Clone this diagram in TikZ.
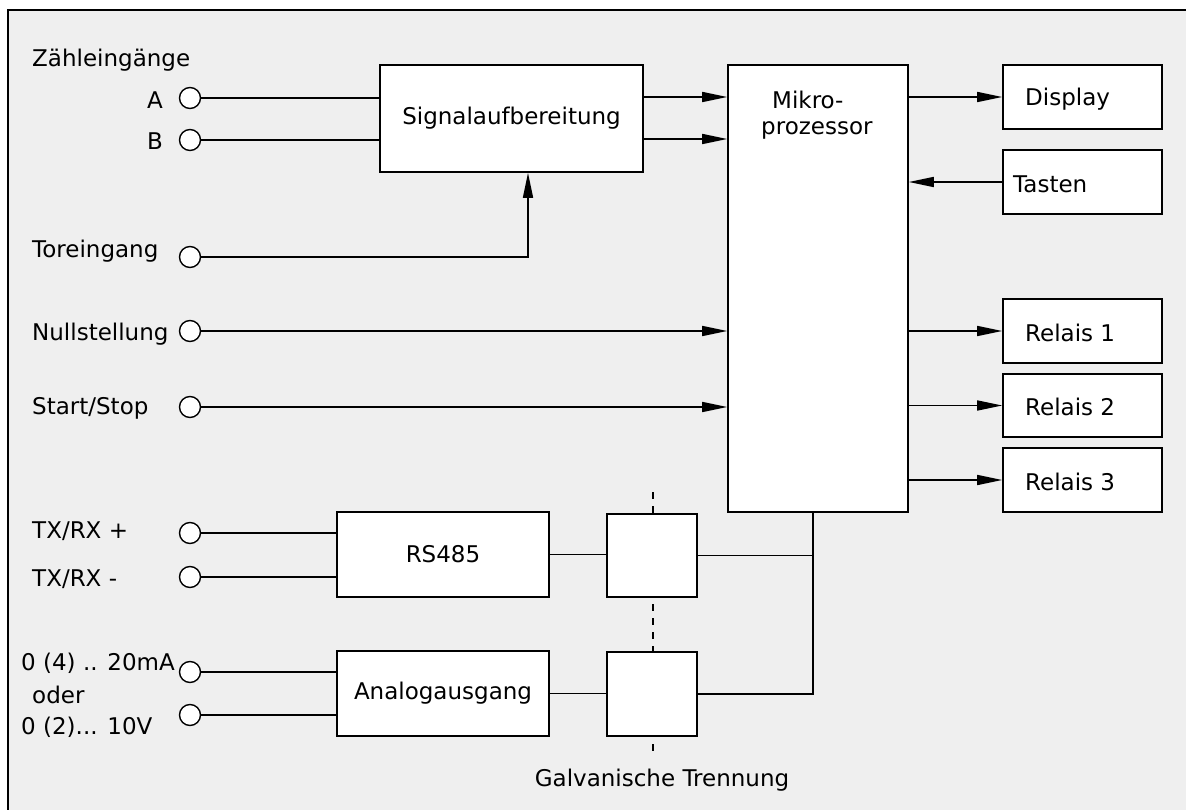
\documentclass[tikz,border=0pt]{standalone}
\usepackage{fontspec}
\setmainfont{DejaVu Sans}
\usetikzlibrary{arrows.meta,calc}
\definecolor{bggray}{HTML}{EFEFEF}
\tikzset{
  box/.style={draw,fill=white,line width=1.6pt,inner sep=0pt,rectangle},
  term/.style={draw,fill=white,circle,minimum size=21pt,inner sep=0pt,line width=1.4pt},
  wire/.style={line width=1.6pt},
  arr/.style={line width=1.6pt,-{Triangle[length=25pt,width=10pt]}},
  lbl/.style={inner sep=0pt,anchor=west},
  every node/.append style={font=\fontsize{23}{27}\selectfont}
}
\begin{document}
\begin{tikzpicture}[x=1pt,y=-1pt]
\useasboundingbox (0,0) rectangle (1186,810);
\fill[bggray] (8,10) rectangle (1186,810);
\draw[line width=2.2pt] (8,810) -- (8,10) -- (1186,10);

% dashed isolation line
\coordinate (dtop) at (653,492);
\coordinate (dbot) at (653,757);
\draw[line width=1.3pt,dash pattern=on 7pt off 7pt] (dtop) -- (dbot);

% boxes
\node[box,minimum width=263pt,minimum height=107pt] (sig) at (511.5,118.5) {Signalaufbereitung};
\node[box,minimum width=180pt,minimum height=447pt] (mik) at (818,288.5) {};
\node[box,minimum width=159pt,minimum height=64pt] (disp) at (1082.5,97) {};
\node[box,minimum width=159pt,minimum height=64pt] (tast) at (1082.5,182) {};
\node[box,minimum width=159pt,minimum height=64pt] (rel1) at (1082.5,331) {};
\node[box,minimum width=159pt,minimum height=63pt] (rel2) at (1082.5,405.5) {};
\node[box,minimum width=159pt,minimum height=64pt] (rel3) at (1082.5,480) {};
\node[box,minimum width=212pt,minimum height=85pt] (rs) at (443,554.5) {RS485};
\node[box,minimum width=212pt,minimum height=85pt] (an) at (443,693.5) {Analogausgang};
\node[box,minimum width=90pt,minimum height=83pt] (iso1) at (652,555.5) {};
\node[box,minimum width=90pt,minimum height=84pt] (iso2) at (652,694) {};

% box texts
\node[lbl] (tmik1) at (772,100) {Mikro-};
\node[lbl] (tmik2) at (761,130) {prozessor};
\node[lbl] (tdisp) at (1025,99) {Display};
\node[lbl] (ttast) at (1013,184) {Tasten};
\node[lbl] (trel1) at (1025,333) {Relais 1};
\node[lbl] (trel2) at (1025,407) {Relais 2};
\node[lbl] (trel3) at (1025,482) {Relais 3};

% terminals
\node[term] (cA) at (190,98) {};
\node[term] (cB) at (190,140) {};
\node[term] (cT) at (190,257) {};
\node[term] (cN) at (190,331) {};
\node[term] (cS) at (190,407) {};
\node[term] (cX1) at (190,533) {};
\node[term] (cX2) at (190,577) {};
\node[term] (cY1) at (190,672) {};
\node[term] (cY2) at (190,715) {};

% left labels
\node[lbl] (lz) at (32,60) {Zähleingänge};
\node[lbl] (la) at (147,100) {A};
\node[lbl] (lb) at (147,141) {B};
\node[lbl] (lt) at (32,251) {Toreingang};
\node[lbl] (ln) at (32,334) {Nullstellung};
\node[lbl] (ls) at (32,408) {Start/Stop};
\node[lbl] (lx1) at (32,531) {TX/RX +};
\node[lbl] (lx2) at (32,579) {TX/RX -};
\node[lbl] (ly1) at (21,663) {0 (4) .. 20mA};
\node[lbl] (ly2) at (32,695) {oder};
\node[lbl] (ly3) at (21,727) {0 (2)... 10V};
\node[inner sep=0pt] (lg) at (662,780) {Galvanische Trennung};

% connectors
\draw[wire] (cA) -- (cA -| sig.west);
\draw[wire] (cB) -- (cB -| sig.west);
\coordinate (tcorner) at (528,257);
\draw[arr] (cT) -- (tcorner) -- (tcorner |- sig.south);
\draw[arr] (sig.east |- 0,97) -- (mik.west |- 0,97);
\draw[arr] (sig.east |- 0,139) -- (mik.west |- 0,139);
\draw[arr] (cN) -- (cN -| mik.west);
\draw[arr] (cS) -- (cS -| mik.west);
\draw[arr] (mik.east |- disp) -- (disp.west);
\draw[arr] (tast.west) -- (mik.east |- tast);
\draw[arr] (mik.east |- rel1) -- (rel1.west);
\draw[arr] (mik.east |- rel2) -- (rel2.west);
\draw[arr] (mik.east |- rel3) -- (rel3.west);
\draw[wire] (cX1) -- (cX1 -| rs.west);
\draw[wire] (cX2) -- (cX2 -| rs.west);
\draw[wire] (cY1) -- (cY1 -| an.west);
\draw[wire] (cY2) -- (cY2 -| an.west);
\draw[wire] (rs.east) -- (rs.east -| iso1.west);
\draw[wire] (an.east) -- (an.east -| iso2.west);
\coordinate (bus) at (813,0);
\draw[wire] (iso1.east) -- (bus |- iso1.east);
\draw[wire] (iso2.east) -- (bus |- iso2.east) -- (bus |- mik.south);
\end{tikzpicture}
\end{document}
